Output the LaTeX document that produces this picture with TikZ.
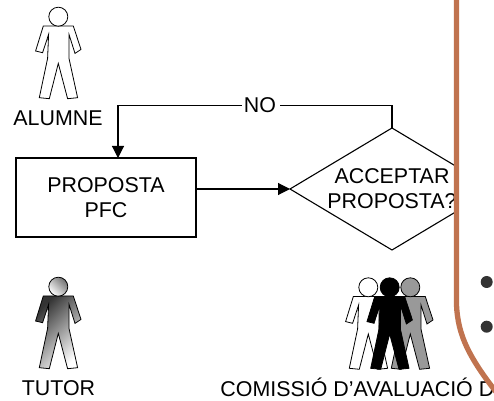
\documentclass[tikz,border=0pt]{standalone}
\usepackage{fontspec}
\setmainfont{Liberation Sans}
\usetikzlibrary{shapes.geometric,arrows.meta}
\definecolor{panelbrown}{HTML}{C0734F}
\definecolor{dotgrey}{HTML}{333333}
\definecolor{persongrey}{HTML}{999999}
\tikzset{
  flowline/.style={draw=black,line width=.55pt},
  flowarrow/.style={flowline,-{Triangle[length=6pt,width=6pt]}},
  label/.style={inner sep=0pt,font=\fontsize{10.7pt}{12.5pt}\selectfont,anchor=base,text=black},
  headlook/.style={},
  pics/person/.style={code={
    \path[pic actions] (-15,9.3) -- (-22.7,34.3) -- (-15.7,36) -- (-9.7,17.7) -- (-10.7,41.7)
      -- (-19,81) -- (-9,82) -- (0,46.7) -- (9.3,82) -- (19.3,81) -- (10.7,41.7)
      -- (10.7,17.7) -- (16.7,36.7) -- (22.7,32.7) -- (15,9.3) -- cycle;
    \path[pic actions,headlook] (0,0) circle[radius=9.5];
  }},
  personline/.style={draw=black,line width=.4pt},
  whiteperson/.style={personline,fill=white},
  greyperson/.style={personline,fill=persongrey},
  blackperson/.style={personline,fill=black},
  shadedperson/.style={personline,left color=black!80,middle color=black!35,right color=white,shading angle=45,
    headlook/.style={left color=black!55,right color=white,shading angle=-45}},
}
\begin{document}
\begin{tikzpicture}[x=.5pt,y=-.5pt]
\useasboundingbox (0,0) rectangle (494,401);
\clip (0,0) rectangle (494,401);
% people
\pic[whiteperson] at (58.3,16.7) {person};
\pic[shadedperson] at (58.3,286.7) {person};
\pic[whiteperson] at (368.3,287.3) {person};
\pic[greyperson] at (410.3,287.3) {person};
\pic[blackperson] at (389.7,287.3) {person};
% labels
\node[label] (alumne) at (58,126) {ALUMNE};
\node[label] (tutor) at (58.5,396) {TUTOR};
\node[label,anchor=base west] (comissio) at (220,397) {COMISSIÓ D’AVALUACIÓ D};
% flow
\node[draw=black,line width=.55pt,outer sep=0pt,minimum width=90pt,minimum height=39.5pt,inner sep=0pt,align=center,
  font=\fontsize{10.7pt}{12.5pt}\selectfont] (prop) at (106,197.5) {PROPOSTA\\PFC};
\node[diamond,draw=black,line width=.55pt,outer sep=0pt,aspect=1.672,inner sep=0pt,minimum width=102pt,minimum height=61pt,
  align=center,font=\fontsize{10.7pt}{12.5pt}\selectfont] (dec) at (392,189) {ACCEPTAR\\PROPOSTA?};
\node[label,anchor=base] (no) at (260,112.5) {NO};
\coordinate (nr) at (dec.north |- no.center);
\coordinate (nl) at ([xshift=6pt]prop.north |- no.center);
\draw[flowline] (dec.north) -- (nr) -- ([xshift=2pt]no.east |- nr);
\draw[flowarrow] ([xshift=-1pt]no.west |- nl) -- (nl) -- ([xshift=6pt]prop.north);
\draw[flowarrow] ([xshift=-.5pt]prop.east |- dec.west) -- (dec.west);
% panel
\path[fill=white,draw=panelbrown,line width=2.65pt] (456.5,-10) -- (456.5,305)
  .. controls (458,335) and (468,358) .. (505,403) -- (520,403) -- (520,-10) -- cycle;
\fill[dotgrey] (486.7,282) circle[radius=6];
\fill[dotgrey] (486.7,326.7) circle[radius=6];
\end{tikzpicture}
\end{document}
